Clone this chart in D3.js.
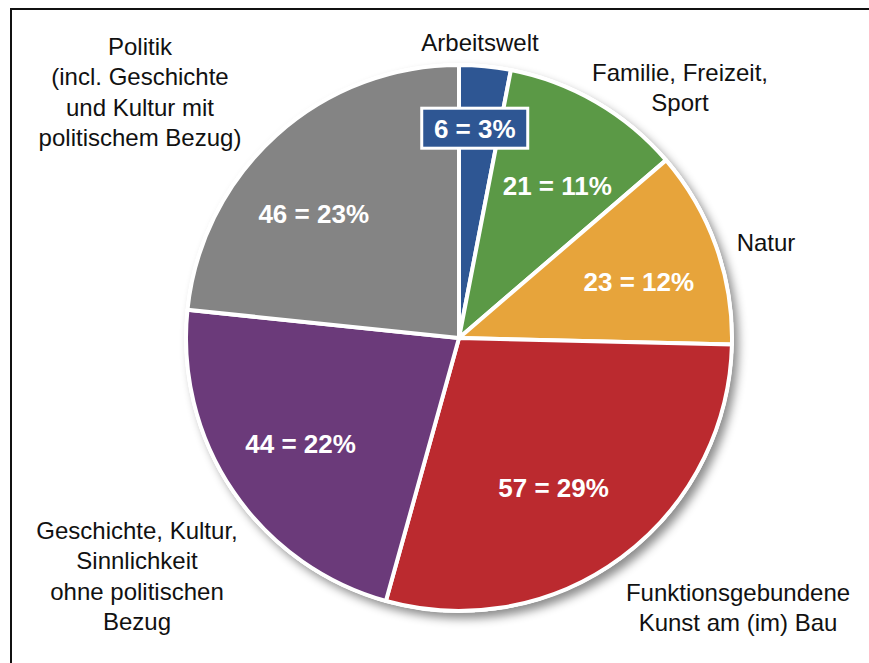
<!DOCTYPE html>
<html>
<head>
<meta charset="utf-8">
<script src="https://cdn.jsdelivr.net/npm/d3@7"></script>
<style>
  body { margin: 0; background: #fff; }
  text { font-family: "Liberation Sans", Arial, sans-serif; }
</style>
</head>
<body>
<script>
// data
var categories = ["Arbeitswelt", "Familie, Freizeit, Sport", "Natur",
    "Funktionsgebundene Kunst am (im) Bau",
    "Geschichte, Kultur, Sinnlichkeit ohne politischen Bezug",
    "Politik (incl. Geschichte und Kultur mit politischem Bezug)"];
var counts = [6, 21, 23, 57, 44, 46];
var percents = [3, 11, 12, 29, 22, 23];
var colors = ["#2e5693", "#5b9946", "#e7a43b", "#bb2a2f", "#6b3a7a", "#848484"];

// outer label lines and where they sit
var labelLines = [
    ["Arbeitswelt"],
    ["Familie, Freizeit,", "Sport"],
    ["Natur"],
    ["Funktionsgebundene", "Kunst am (im) Bau"],
    ["Geschichte, Kultur,", "Sinnlichkeit", "ohne politischen", "Bezug"],
    ["Politik", "(incl. Geschichte", "und Kultur mit", "politischem Bezug)"]
];
var labelPos = [[480, 42], [680, 72], [766, 242], [738, 592], [137, 530], [140, 46]];
// small nudges of the value labels away from the slice centroid
var valueNudge = [[-2, -25], [5, 8], [5, 6], [-16, 0], [-5, 1], [-21, 14]];

var width = 869, height = 663;
var cx = 459, cy = 338, radius = 273;

var svg = d3.select("body").append("svg")
    .attr("width", width)
    .attr("height", height);

// frame
svg.append("rect")
    .attr("x", 11).attr("y", 9)
    .attr("width", width + 20).attr("height", height + 20)
    .attr("fill", "none")
    .attr("stroke", "#111")
    .attr("stroke-width", 2);

var defs = svg.append("defs");
var filter = defs.append("filter")
    .attr("id", "shadow")
    .attr("x", "-10%").attr("y", "-10%")
    .attr("width", "130%").attr("height", "130%");
filter.append("feDropShadow")
    .attr("dx", 5).attr("dy", 6)
    .attr("stdDeviation", 5)
    .attr("flood-color", "#000")
    .attr("flood-opacity", 0.45);

var g = svg.append("g")
    .attr("transform", "translate(" + cx + "," + cy + ")");

var pie = d3.pie().sort(null).value(function(d) { return d; });
var arcs = pie(counts);

var arc = d3.arc().innerRadius(0).outerRadius(radius);
var labelArc = d3.arc().innerRadius(radius * 0.68).outerRadius(radius * 0.68);

// white disk with shadow behind slices
g.append("circle")
    .attr("r", radius + 1.5)
    .attr("fill", "#fff")
    .attr("filter", "url(#shadow)");

g.selectAll("path.slice")
    .data(arcs)
    .enter()
    .append("path")
        .attr("class", "slice")
        .attr("d", arc)
        .attr("fill", function(d, i) { return colors[i]; })
        .attr("stroke", "#fff")
        .attr("stroke-width", 4)
        .attr("stroke-linejoin", "round");

// value labels
var vals = g.selectAll("g.val")
    .data(arcs)
    .enter()
    .append("g")
        .attr("class", "val")
        .attr("transform", function(d, i) {
            var c = labelArc.centroid(d);
            return "translate(" + (c[0] + valueNudge[i][0]) + "," + (c[1] + valueNudge[i][1]) + ")";
        });

// boxed label for the small slice
vals.filter(function(d, i) { return i === 0; })
    .append("rect")
        .attr("x", -53).attr("y", -20)
        .attr("width", 106).attr("height", 40)
        .attr("fill", colors[0])
        .attr("stroke", "#fff")
        .attr("stroke-width", 3);

vals.append("text")
    .attr("text-anchor", "middle")
    .attr("dy", "0.36em")
    .attr("fill", "#fff")
    .style("font-size", "26px")
    .style("font-weight", "bold")
    .text(function(d, i) { return counts[i] + " = " + percents[i] + "%"; });

// outer category labels
var outer = svg.selectAll("text.cat")
    .data(labelLines)
    .enter()
    .append("text")
        .attr("class", "cat")
        .attr("text-anchor", "middle")
        .attr("fill", "#111")
        .style("font-size", "24px");

outer.selectAll("tspan")
    .data(function(lines, i) {
        return lines.map(function(l) { return {text: l, i: i}; });
    })
    .enter()
    .append("tspan")
        .attr("x", function(d) { return labelPos[d.i][0]; })
        .attr("y", function(d, j) { return labelPos[d.i][1] + j * 30.5; })
        .attr("dy", "0.36em")
        .text(function(d) { return d.text; });
</script>
</body>
</html>
